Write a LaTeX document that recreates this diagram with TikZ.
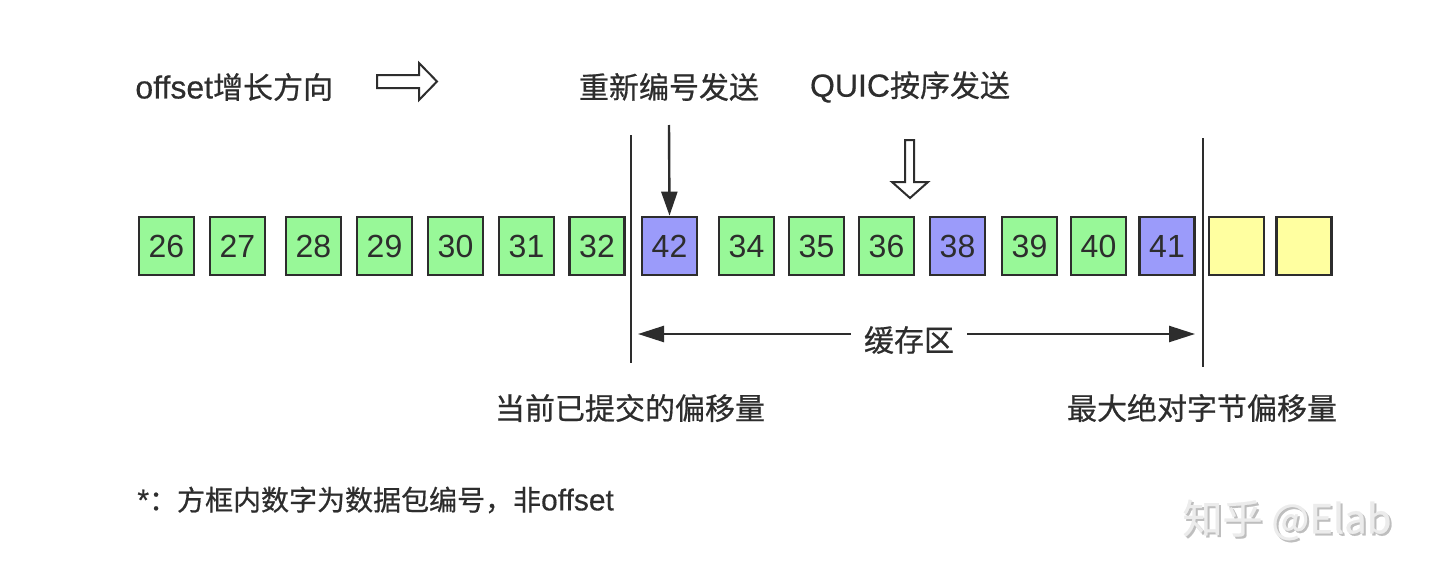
\documentclass[tikz,border=0pt]{standalone}
\usepackage{fontspec}
\setmainfont{Liberation Sans}
\newfontfamily\cjk[FakeBold=0.6]{Noto Sans CJK SC}
\newfontfamily\latb[FakeBold=0.4]{Liberation Sans}
\usetikzlibrary{arrows.meta}
\definecolor{pg}{RGB}{152,248,152}
\definecolor{pb}{RGB}{155,155,250}
\definecolor{py}{RGB}{255,255,160}
\definecolor{txt}{RGB}{45,45,45}
\definecolor{ln}{RGB}{45,45,45}
\definecolor{wm}{RGB}{236,236,236}
\definecolor{wms}{RGB}{190,190,190}
\newcommand{\lat}[1]{{\latb\fontsize{16pt}{18pt}\selectfont #1}}
\newcommand{\latn}[1]{{\latb\fontsize{15pt}{18pt}\selectfont #1}}
\begin{document}
\begin{tikzpicture}[x=0.5pt,y=-0.5pt,
  pkt/.style={draw=ln, line width=1.35pt, minimum width=27.5pt, minimum height=29pt,
    inner sep=0pt, font=\fontsize{16pt}{18pt}\selectfont, text=txt},
  pktg/.style={pkt, fill=pg},
  pktb/.style={pkt, fill=pb},
  pkty/.style={pkt, fill=py},
  lbl/.style={font=\cjk\fontsize{15pt}{18pt}\selectfont, text=txt, inner sep=0pt},
  vline/.style={draw=ln, line width=1pt},
  conn/.style={draw=ln, line width=1.2pt},
  hollow/.style={draw=ln, line width=1pt, fill=white, line join=miter},
  wmark/.style={font=\cjk\fontsize{20pt}{22pt}\selectfont, inner sep=0pt}
]
\useasboundingbox[fill=white] (0,0) rectangle (1440,578);

% packets
\node[pktg] (b26) at (166.5,246) {26};
\node[pktg] (b27) at (237.5,246) {27};
\node[pktg] (b28) at (313.5,246) {28};
\node[pktg] (b29) at (384.5,246) {29};
\node[pktg] (b30) at (455.5,246) {30};
\node[pktg] (b31) at (526.5,246) {31};
\node[pktg] (b32) at (597,246) {32};
\node[pktb] (b42) at (669.5,246) {42};
\node[pktg] (b34) at (746.5,246) {34};
\node[pktg] (b35) at (816.5,246) {35};
\node[pktg] (b36) at (886.5,246) {36};
\node[pktb] (b38) at (957.5,246) {38};
\node[pktg] (b39) at (1029.5,246) {39};
\node[pktg] (b40) at (1098.5,246) {40};
\node[pktb] (b41) at (1167,246) {41};
\node[pkty] (y1) at (1236.5,246) {};
\node[pkty] (y2) at (1304,246) {};

% top labels
\node[lbl, anchor=west] (dir) at (135,87) {\lat{offset}增长方向};
\node[lbl] (renum) at (669,87) {重新编号发送};
\node[lbl] (quic) at (910,87) {\lat{QUIC}按序发送};

% hollow right arrow
\draw[hollow] (377,75) -- (419,75) -- (419,63) -- (437,81.5) -- (419,100) -- (419,88) -- (377,88) -- cycle;
% hollow down arrow
\draw[hollow] (905,140) -- (914,140) -- (914,182) -- (928,182) -- (910,198) -- (892,182) -- (905,182) -- cycle;

% arrow to 42
\coordinate (rtop) at (669,125);
\draw[conn, -{Triangle[length=12pt,width=8pt]}] (rtop) -- (b42.north);

% vertical boundaries
\coordinate (lt) at (631,135);
\coordinate (lb) at (631,363);
\coordinate (rt) at (1203,138);
\coordinate (rb) at (1203,367);
\draw[vline] (lt) -- (lb);
\draw[vline] (rt) -- (rb);

% buffer
\node[lbl, inner xsep=6.5pt] (buf) at (909,340) {缓存区};
\coordinate (bl) at (638,334);
\coordinate (br) at (1195,334);
\draw[conn, -{Triangle[length=13pt,width=8pt]}] (buf.west |- bl) -- (bl);
\draw[conn, -{Triangle[length=13pt,width=8pt]}] (buf.east |- br) -- (br);

% bottom labels
\node[lbl] (commit) at (630,408) {当前已提交的偏移量};
\node[lbl] (maxoff) at (1202,408) {最大绝对字节偏移量};
\node[lbl, anchor=west, font=\cjk\fontsize{14pt}{17pt}\selectfont] (note) at (137,500) {\latn{*}：方框内数字为数据包编号，非\latn{offset}};

% watermark
\node[wmark, text=wms] (wmks) at (1289,522) {知乎 @Elab};
\node[wmark, text=wm] (wmk) at (1287,520) {知乎 @Elab};
\end{tikzpicture}
\end{document}
